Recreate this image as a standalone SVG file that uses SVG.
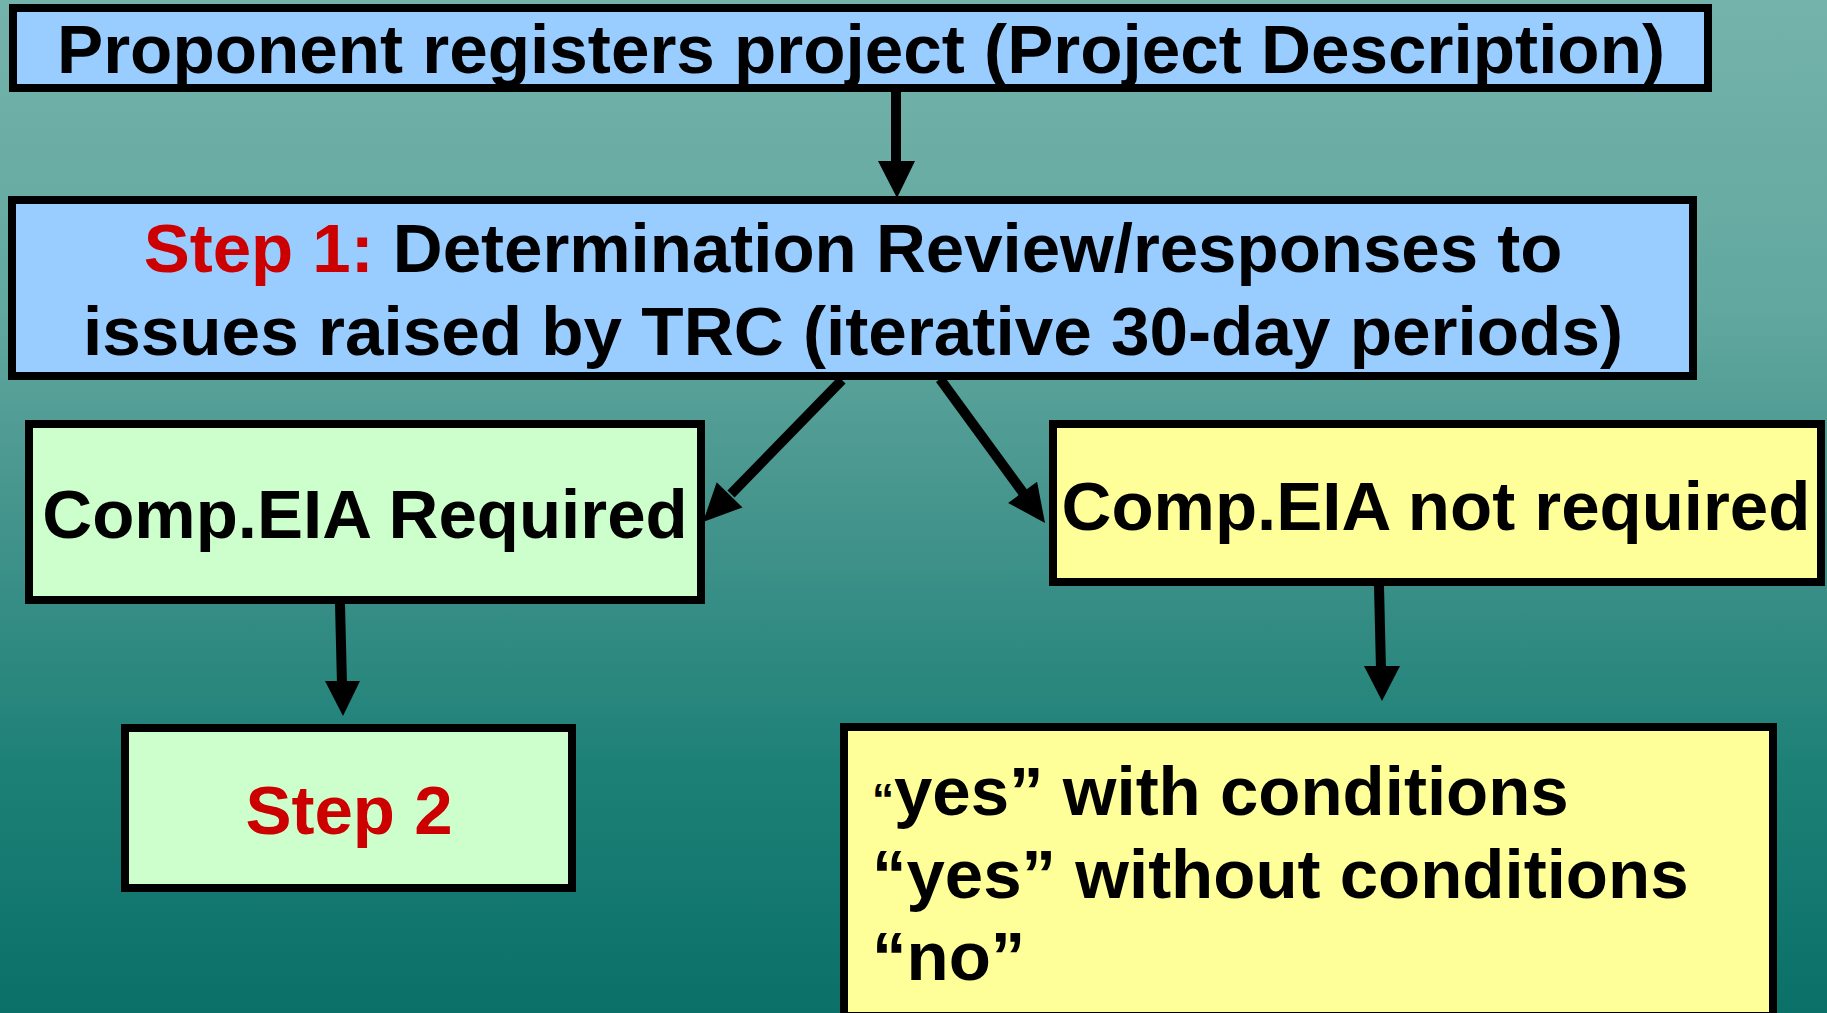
<svg xmlns="http://www.w3.org/2000/svg" width="1827" height="1013" viewBox="0 0 1827 1013">
  <defs>
    <linearGradient id="bg" x1="0" y1="0" x2="0" y2="1">
      <stop offset="0" stop-color="#74b3ab"/>
      <stop offset="0.3" stop-color="#62a8a0"/>
      <stop offset="0.5" stop-color="#45958d"/>
      <stop offset="0.75" stop-color="#1e8178"/>
      <stop offset="1" stop-color="#0a7068"/>
    </linearGradient>
    <style>
      .box { stroke: #000; stroke-width: 8; }
      .blue { fill: #99CCFF; }
      .green { fill: #CCFFCC; }
      .yellow { fill: #FFFF99; }
      .t { font-family: "Liberation Sans", Arial, sans-serif; font-weight: bold; font-size: 69px; fill: #000; }
      .red { fill: #CC0000; }
      .line { stroke: #000; stroke-width: 10; fill: none; }
      .head { fill: #000; }
    </style>
  </defs>
  <rect x="0" y="0" width="1827" height="1013" fill="url(#bg)"/>

  <g id="node-register">
    <rect class="box blue" x="13" y="8" width="1695" height="80"/>
    <text class="t" x="861" y="73" text-anchor="middle" textLength="1608" lengthAdjust="spacingAndGlyphs">Proponent registers project (Project Description)</text>
  </g>

  <g id="node-step1">
    <rect class="box blue" x="12" y="200" width="1681" height="176"/>
    <text class="t" x="853" y="272" text-anchor="middle"><tspan class="red">Step 1:</tspan> Determination Review/responses to</text>
    <text class="t" x="853" y="355" text-anchor="middle" textLength="1540" lengthAdjust="spacingAndGlyphs">issues raised by TRC (iterative 30-day periods)</text>
  </g>

  <g id="node-required">
    <rect class="box green" x="29" y="424" width="672" height="176"/>
    <text class="t" x="365" y="538" text-anchor="middle">Comp.EIA Required</text>
  </g>

  <g id="node-step2">
    <rect class="box green" x="125" y="728" width="447" height="160"/>
    <text class="t red" x="349" y="834" text-anchor="middle">Step 2</text>
  </g>

  <g id="node-not-required">
    <rect class="box yellow" x="1053" y="424" width="768" height="158"/>
    <text class="t" x="1436" y="530" text-anchor="middle">Comp.EIA not required</text>
  </g>

  <g id="node-outcomes">
    <rect class="box yellow" x="844" y="727" width="929" height="289"/>
    <text class="t" x="872" y="815"><tspan font-size="44">“</tspan>yes” with conditions</text>
    <text class="t" x="872" y="898">“yes” without conditions</text>
    <text class="t" x="872" y="980">“no”</text>
  </g>

  <g id="connectors">
    <line class="line" x1="896" y1="92" x2="896" y2="166"/>
    <polygon class="head" points="878,161 915,161 897,198"/>

    <line class="line" x1="842" y1="380" x2="731" y2="494"/>
    <polygon class="head" points="703,522 742.5,507.4 716.7,482.2"/>

    <line class="line" x1="940" y1="379" x2="1024" y2="494"/>
    <polygon class="head" points="1045,523 1008.1,502.9 1037.1,481.7"/>

    <line class="line" x1="340" y1="604" x2="342" y2="685"/>
    <polygon class="head" points="325,681 360,681 343,716"/>

    <line class="line" x1="1379" y1="586" x2="1381" y2="670"/>
    <polygon class="head" points="1364,666 1400,666 1382,701"/>
  </g>
</svg>
